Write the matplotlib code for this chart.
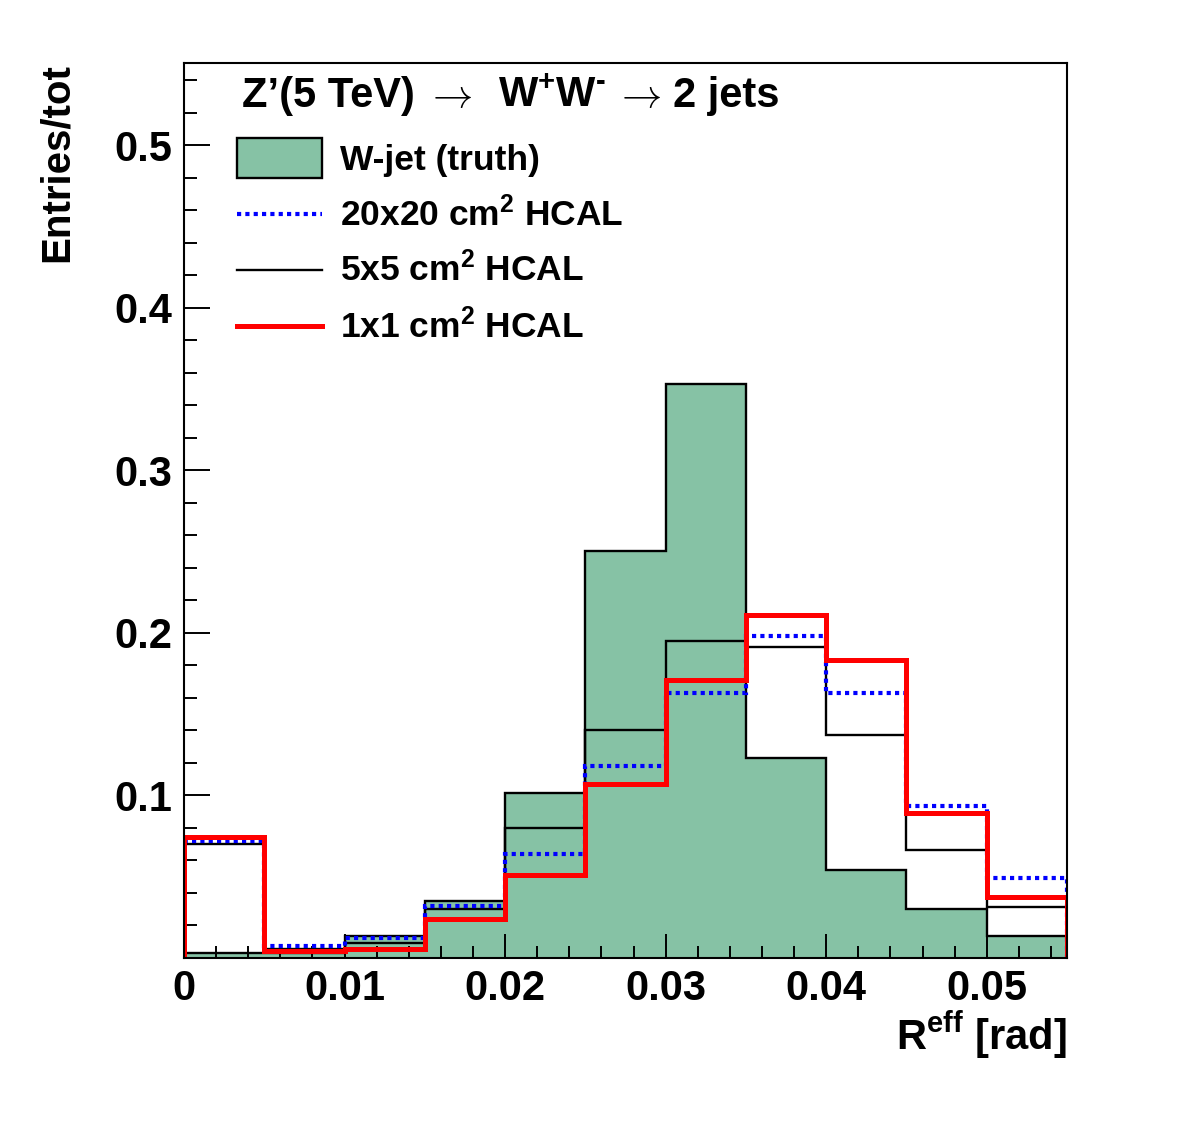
import numpy as np
import matplotlib
matplotlib.use("Agg")
import matplotlib.pyplot as plt
from matplotlib.patches import Rectangle
from matplotlib.lines import Line2D
from matplotlib.ticker import MultipleLocator

plt.rcParams['font.family'] = ['Liberation Sans', 'DejaVu Sans']
plt.rcParams['font.weight'] = 'bold'
plt.rcParams['mathtext.fontset'] = 'custom'
plt.rcParams['mathtext.rm'] = 'Liberation Sans:bold'
plt.rcParams['mathtext.it'] = 'Liberation Sans:bold'
plt.rcParams['mathtext.bf'] = 'Liberation Sans:bold'
plt.rcParams['mathtext.default'] = 'rm'

# ---- data ----
bin_edges = [0.0, 0.005, 0.010, 0.015, 0.020, 0.025, 0.030, 0.035, 0.040, 0.045, 0.050, 0.055]
truth   = [0.003, 0.003, 0.013, 0.035, 0.101, 0.250, 0.353, 0.123, 0.054, 0.030, 0.013]
hcal20  = [0.072, 0.007, 0.012, 0.032, 0.064, 0.118, 0.163, 0.198, 0.163, 0.093, 0.049]
hcal5   = [0.070, 0.005, 0.009, 0.030, 0.080, 0.140, 0.195, 0.191, 0.137, 0.066, 0.031]
hcal1   = [0.074, 0.004, 0.005, 0.024, 0.051, 0.107, 0.171, 0.211, 0.183, 0.089, 0.037]
labels  = ["W-jet (truth)", r"20x20 cm$^{2}$ HCAL", r"5x5 cm$^{2}$ HCAL", r"1x1 cm$^{2}$ HCAL"]
title_parts = ["Z’(5 TeV)", r"W$^{+}$W$^{\text{-}}$", "2 jets"]
xticks  = [0, 0.01, 0.02, 0.03, 0.04, 0.05]
xticklabels = ["0", "0.01", "0.02", "0.03", "0.04", "0.05"]
yticks  = [0.1, 0.2, 0.3, 0.4, 0.5]
yticklabels = ["0.1", "0.2", "0.3", "0.4", "0.5"]

green = '#86c2a5'

fig = plt.figure(figsize=(11.82, 11.34), dpi=100)
ax = fig.add_axes([184/1182, 1 - 957.5/1134, 883/1182, 894.5/1134])

ax.stairs(truth, bin_edges, fill=True, facecolor=green, edgecolor='black', linewidth=1.7, zorder=1)
ax.stairs(hcal5, bin_edges, baseline=0, color='black', linewidth=1.7, zorder=2)
ax.stairs(hcal20, bin_edges, baseline=0, color='#0000ff', linewidth=3.0, linestyle=(0, (1, 1)), zorder=3)
ax.stairs(hcal1, bin_edges, baseline=0, color='#ff0000', linewidth=3.6, zorder=4)

ax.set_xlim(0, 0.055)
ax.set_ylim(0, 0.5505)

ax.set_xticks(xticks)
ax.set_xticklabels(xticklabels)
ax.set_yticks(yticks)
ax.set_yticklabels(yticklabels)
ax.xaxis.set_minor_locator(MultipleLocator(0.002))
ax.yaxis.set_minor_locator(MultipleLocator(0.02))
ax.tick_params(axis='both', which='both', direction='in', width=1.4, labelsize=30)
ax.tick_params(axis='y', which='major', length=19, pad=8.5)
ax.tick_params(axis='y', which='minor', length=9.5)
ax.tick_params(axis='x', which='major', length=17, pad=8.5)
ax.tick_params(axis='x', which='minor', length=8.6)
for s in ax.spines.values():
    s.set_linewidth(1.5)
    s.set_zorder(10)

def fx(px):
    return (px - 184) / 883
def fy(py):
    return (957.5 - py) / 894.5

# title text (pieces with thin Symbol-like arrows)
title_base = fy(106.7)
for txt, px in zip(title_parts, [242, 498, 673]):
    ax.text(fx(px), title_base, txt, transform=ax.transAxes, fontsize=30,
            fontweight='bold', ha='left', va='baseline')
for px in [425, 614]:
    ax.text(fx(px), title_base, r"$\rightarrow$", transform=ax.transAxes, fontsize=29,
            ha='left', va='baseline', math_fontfamily='cm')

# legend
ax.add_patch(Rectangle((fx(237), fy(178)), fx(322) - fx(237), fy(138) - fy(178),
                       transform=ax.transAxes, facecolor=green, edgecolor='black',
                       linewidth=1.7, clip_on=False, zorder=5))
ax.add_line(Line2D([fx(237), fx(322)], [fy(214), fy(214)], transform=ax.transAxes,
                   color='#0000ff', linewidth=3.0, linestyle=(0, (1, 1)), zorder=5))
ax.add_line(Line2D([fx(237), fx(322)], [fy(270), fy(270)], transform=ax.transAxes,
                   color='black', linewidth=1.7, zorder=5))
ax.add_line(Line2D([fx(237), fx(322)], [fy(325.7), fy(325.7)], transform=ax.transAxes,
                   color='#ff0000', linewidth=3.6, zorder=5))
baselines = [170, 225.7, 281, 338]
for lab, b in zip(labels, baselines):
    ax.text(fx(340), fy(b), lab, transform=ax.transAxes, fontsize=25.5,
            fontweight='bold', ha='left', va='baseline')

# axis titles
fig.text(1067/1182, 1 - 1050/1134, r"R$^{\mathrm{eff}}$ [rad]", fontsize=30,
         fontweight='bold', ha='right', va='baseline')
fig.text(68/1182, 1 - 63/1134, "Entries/tot", fontsize=29, fontweight='bold',
         rotation=90, rotation_mode='anchor', ha='right', va='baseline')

fig.savefig("out.png", dpi=100)
